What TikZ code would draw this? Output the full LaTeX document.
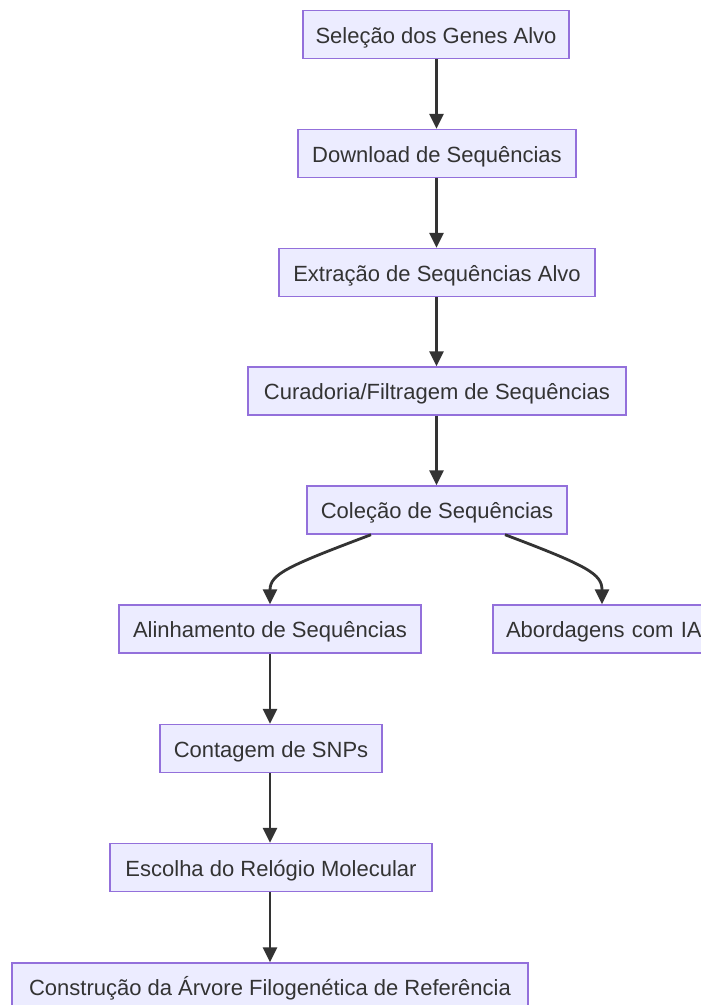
\documentclass[tikz,border=0pt]{standalone}
\usepackage{fontspec}
\setmainfont{Liberation Sans}
\usetikzlibrary{arrows.meta}
\definecolor{boxfill}{HTML}{ECECFF}
\definecolor{boxline}{HTML}{9370DB}
\definecolor{ink}{HTML}{333333}
\tikzset{
  flowbox/.style={draw=boxline, fill=boxfill, line width=1.4pt, text=ink,
    font=\fontsize{22}{26}\selectfont, inner sep=0pt, minimum height=48pt,
    text height=17pt, text depth=0pt},
  flowedge/.style={draw=ink, line width=2.8pt,
    -{Triangle[length=15pt,width=14pt]}}
}
\begin{document}
\begin{tikzpicture}[x=1pt,y=-1pt]
\useasboundingbox (0,0) rectangle (701,1005);
\clip (0,0) rectangle (701,1005);
\fill[white] (0,0) rectangle (701,1005);

\node[flowbox, minimum width=266pt] (sel) at (436,34.5) {Seleção dos Genes Alvo};
\node[flowbox, minimum width=278pt] (down) at (437,153.5) {Download de Sequências};
\node[flowbox, minimum width=316pt] (extr) at (437,272.5) {Extração de Sequências Alvo};
\node[flowbox, minimum width=378pt] (cur) at (437,391) {Curadoria/Filtragem de Sequências};
\node[flowbox, minimum width=260pt] (col) at (437,510) {Coleção de Sequências};
\node[flowbox, minimum width=302pt] (alin) at (270,629) {Alinhamento de Sequências};
\node[flowbox, minimum width=226pt, text width=200pt, align=left] (ia) at (606,629) {Abordagens com IA};
\node[flowbox, minimum width=222pt] (snp) at (271,748.5) {Contagem de SNPs};
\node[flowbox, minimum width=322pt] (rel) at (271,867.5) {Escolha do Relógio Molecular};
\node[flowbox, minimum width=516pt] (arv) at (270,987) {Construção da Árvore Filogenética de Referência};

\draw[flowedge] (sel.south -| 436.5,0) -- (down.north -| 436.5,0);
\draw[flowedge] (down.south -| 436.5,0) -- (extr.north -| 436.5,0);
\draw[flowedge] (extr.south -| 436.5,0) -- (cur.north -| 436.5,0);
\draw[flowedge] (cur.south -| 436.5,0) -- (col.north -| 436.5,0);
\draw[flowedge] ([xshift=-66pt]col.south) .. controls (288,566) and (270,574) .. (alin.north);
\draw[flowedge] ([xshift=68pt]col.south) .. controls (588,566) and (602,574) .. (ia.north -| 602,0);
\draw[flowedge] (alin.south) -- (snp.north -| alin.south);
\draw[flowedge] (snp.south -| alin.south) -- (rel.north -| alin.south);
\draw[flowedge] (rel.south -| alin.south) -- (arv.north -| alin.south);
\end{tikzpicture}
\end{document}
